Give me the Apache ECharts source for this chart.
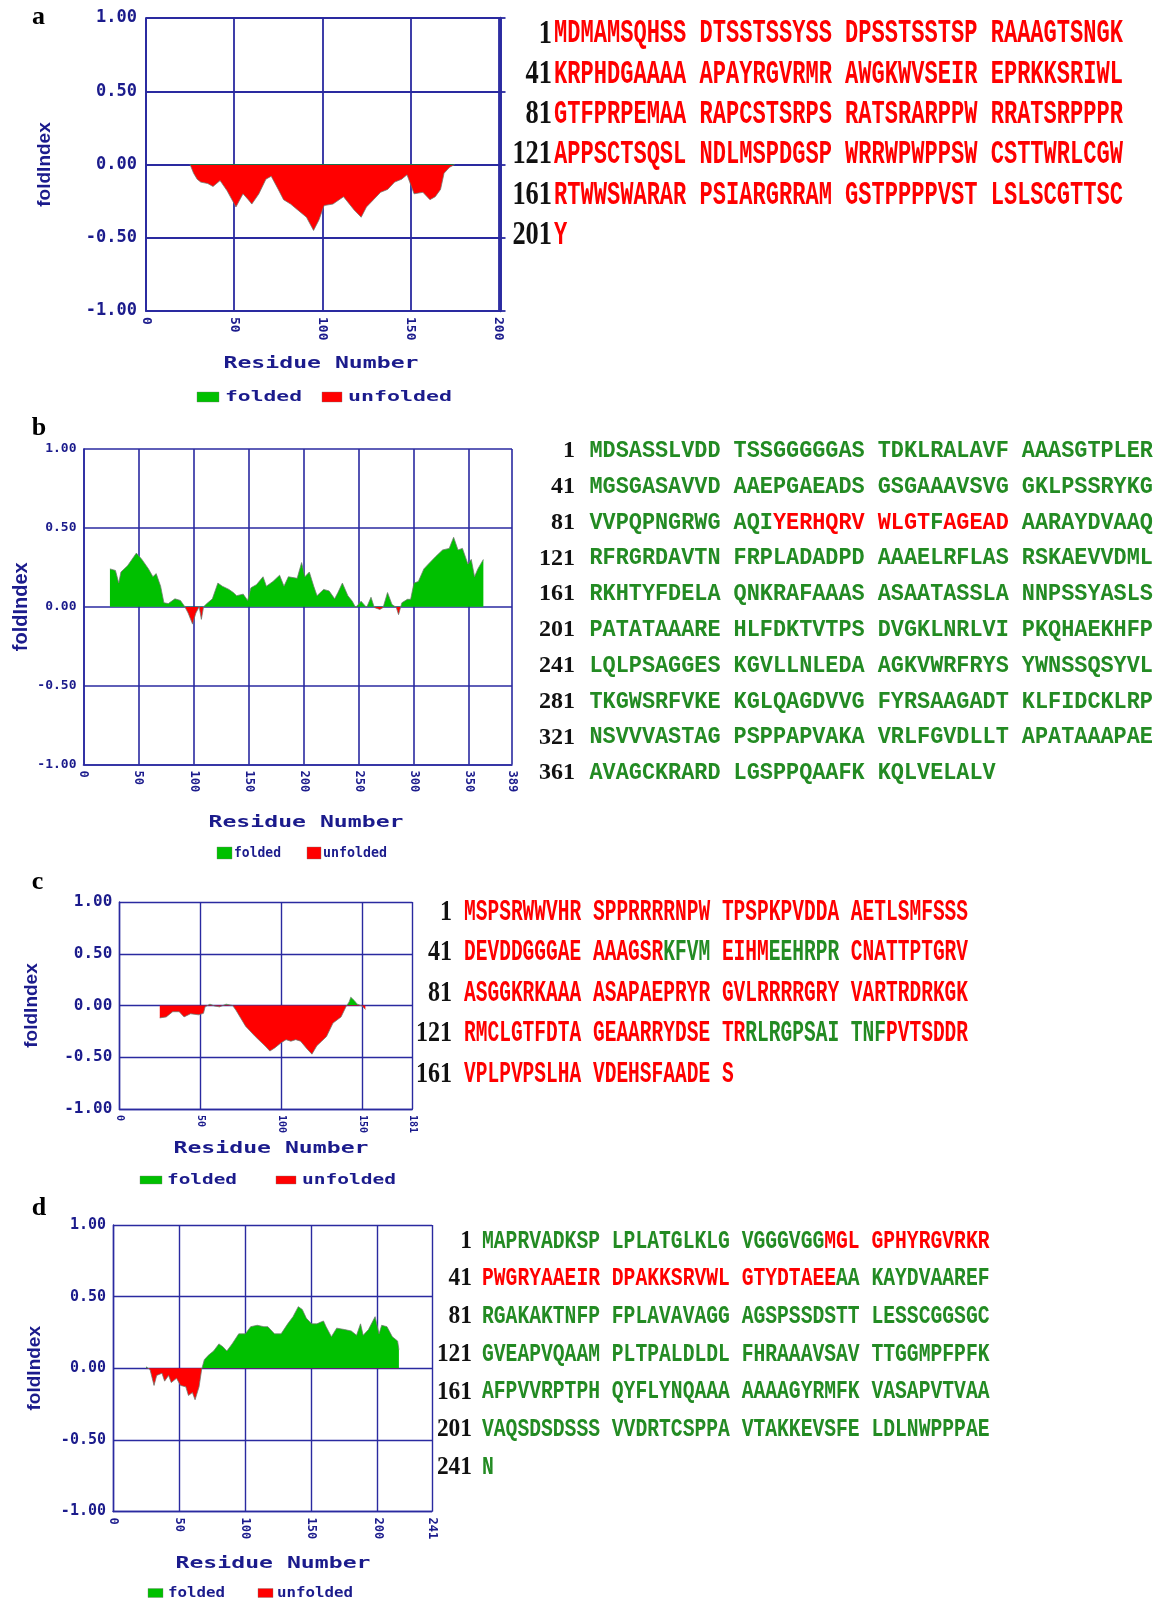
<!DOCTYPE html>
<html>
<head>
<meta charset="utf-8">
<script src="https://cdn.jsdelivr.net/npm/echarts@6/dist/echarts.min.js"></script>
<style>
html,body{margin:0;padding:0;background:#ffffff;}
#chart{width:1163px;height:1600px;}
</style>
</head>
<body>
<div id="chart"></div>
<script>
// ---------------- DATA ----------------
const panelLetters = ['a', 'b', 'c', 'd'];
const xMaxes = [201, 389, 181, 241];
const yTickValues = [-1, -0.5, 0, 0.5, 1];
const yTickLabels = ['-1.00', '-0.50', '0.00', '0.50', '1.00'];

// Panel a: FoldIndex profile
const aRes  = [25,27,29,31,35,38,42,46,51,55,58,60,64,68,71,75,78,82,86,91,95,98,101,106,112,118,122,125,129,133,137,141,145,148,152,157,161,164,167,169,172,175];
const aFold = [0,-0.06,-0.1,-0.12,-0.13,-0.15,-0.11,-0.18,-0.29,-0.2,-0.24,-0.27,-0.2,-0.1,-0.08,-0.17,-0.24,-0.27,-0.31,-0.36,-0.45,-0.38,-0.28,-0.27,-0.22,-0.31,-0.36,-0.29,-0.24,-0.19,-0.17,-0.12,-0.1,-0.07,-0.2,-0.19,-0.24,-0.22,-0.17,-0.06,-0.02,0];

// Panel b
const bRes  = [24,29,32,34,40,46,48,53,59,63,66,70,73,77,83,88,92,95,99,102,105,107,109,112,117,122,126,132,136,139,145,149,152,157,163,166,172,178,182,186,194,198,201,205,209,212,218,223,228,231,235,240,244,247,252,257,261,264,269,272,276,280,284,286,289,294,297,300,304,309,313,320,326,332,336,340,344,349,352,355,358,363];
const bFold = [0.24,0.23,0.15,0.22,0.26,0.32,0.34,0.30,0.24,0.19,0.21,0.13,0.025,0.02,0.05,0.04,0.0,-0.04,-0.11,-0.04,0.0,-0.08,0.0,0.02,0.05,0.15,0.13,0.11,0.09,0.07,0.08,0.04,0.12,0.14,0.19,0.13,0.16,0.2,0.13,0.19,0.18,0.28,0.19,0.22,0.13,0.07,0.11,0.1,0.05,0.09,0.15,0.07,0.035,-0.005,0.035,-0.005,0.06,-0.005,-0.017,-0.005,0.09,0.015,-0.005,-0.05,0.025,0.047,0.047,0.15,0.16,0.24,0.27,0.32,0.36,0.37,0.44,0.36,0.37,0.27,0.3,0.19,0.24,0.3];

// Panel c
const cRes  = [25,29,33,37,40,44,49,52,53,56,59,62,66,70,72,78,84,90,93,96,100,103,106,109,112,116,119,122,125,128,132,137,140,142,143,145,147,150,152];
const cFold = [-0.12,-0.11,-0.06,-0.06,-0.11,-0.08,-0.09,-0.076,-0.013,0.013,-0.006,-0.013,0.013,0,-0.044,-0.2,-0.3,-0.39,-0.44,-0.41,-0.36,-0.33,-0.345,-0.33,-0.345,-0.42,-0.47,-0.39,-0.345,-0.3,-0.17,-0.11,-0.013,0.035,0.08,0.05,0.013,-0.006,-0.038];

// Panel d
const dRes  = [25,28,31,33,37,39,42,44,48,51,55,57,60,62,65,67,69,72,76,80,83,86,90,95,100,104,109,114,117,122,127,132,136,140,143,146,150,154,159,161,165,169,175,180,184,187,189,193,198,201,203,207,211,215,216];
const dFold = [0.01,-0.01,-0.12,-0.05,-0.035,-0.09,-0.05,-0.1,-0.07,-0.12,-0.13,-0.19,-0.17,-0.22,-0.13,-0.007,0.06,0.09,0.12,0.17,0.15,0.12,0.17,0.24,0.24,0.29,0.3,0.29,0.29,0.24,0.24,0.31,0.36,0.43,0.41,0.35,0.31,0.31,0.33,0.29,0.22,0.28,0.27,0.26,0.23,0.31,0.23,0.27,0.36,0.24,0.3,0.29,0.22,0.19,0.13];

// Sequences (rows of 40 residues, blocks of 10)
const seqRowsA = [
  'MDMAMSQHSS DTSSTSSYSS DPSSTSSTSP RAAAGTSNGK',
  'KRPHDGAAAA APAYRGVRMR AWGKWVSEIR EPRKKSRIWL',
  'GTFPRPEMAA RAPCSTSRPS RATSRARPPW RRATSRPPPR',
  'APPSCTSQSL NDLMSPDGSP WRRWPWPPSW CSTTWRLCGW',
  'RTWWSWARAR PSIARGRRAM GSTPPPPVST LSLSCGTTSC',
  'Y'
];
const seqRowsB = [
  'MDSASSLVDD TSSGGGGGAS TDKLRALAVF AAASGTPLER',
  'MGSGASAVVD AAEPGAEADS GSGAAAVSVG GKLPSSRYKG',
  'VVPQPNGRWG AQIYERHQRV WLGTFAGEAD AARAYDVAAQ',
  'RFRGRDAVTN FRPLADADPD AAAELRFLAS RSKAEVVDML',
  'RKHTYFDELA QNKRAFAAAS ASAATASSLA NNPSSYASLS',
  'PATATAAARE HLFDKTVTPS DVGKLNRLVI PKQHAEKHFP',
  'LQLPSAGGES KGVLLNLEDA AGKVWRFRYS YWNSSQSYVL',
  'TKGWSRFVKE KGLQAGDVVG FYRSAAGADT KLFIDCKLRP',
  'NSVVVASTAG PSPPAPVAKA VRLFGVDLLT APATAAAPAE',
  'AVAGCKRARD LGSPPQAAFK KQLVELALV'
];
const seqRowsC = [
  'MSPSRWWVHR SPPRRRRNPW TPSPKPVDDA AETLSMFSSS',
  'DEVDDGGGAE AAAGSRKFVM EIHMEEHRPR CNATTPTGRV',
  'ASGGKRKAAA ASAPAEPRYR GVLRRRRGRY VARTRDRKGK',
  'RMCLGTFDTA GEAARRYDSE TRRLRGPSAI TNFPVTSDDR',
  'VPLPVPSLHA VDEHSFAADE S'
];
const seqRowsD = [
  'MAPRVADKSP LPLATGLKLG VGGGVGGMGL GPHYRGVRKR',
  'PWGRYAAEIR DPAKKSRVWL GTYDTAEEAA KAYDVAAREF',
  'RGAKAKTNFP FPLAVAVAGG AGSPSSDSTT LESSCGGSGC',
  'GVEAPVQAAM PLTPALDLDL FHRAAAVSAV TTGGMPFPFK',
  'AFPVVRPTPH QYFLYNQAAA AAAAGYRMFK VASAPVTVAA',
  'VAQSDSDSSS VVDRTCSPPA VTAKKEVSFE LDLNWPPPAE',
  'N'
];
// residue ranges predicted unfolded (red); the rest is folded (green)
const unfoldedA = [[1, 201]];
const unfoldedB = [[94, 104], [106, 110]];
const unfoldedC = [[1, 56], [61, 64], [71, 142], [154, 181]];
const unfoldedD = [[28, 68]];

const legendNames = ['folded', 'unfolded'];

// ---------------- STYLE / LAYOUT ----------------
const NAVY = '#1b1b8c';
const GRIDC = '#2a2aa0';
const AREA_GREEN = '#00c000';
const AREA_RED = '#ff0000';
const TXT_GREEN = '#238b23';
const TXT_RED = '#ff0000';
const MONO = 'DejaVu Sans Mono';

const profiles = [[aRes, aFold], [bRes, bFold], [cRes, cFold], [dRes, dFold]];
const seqRows = [seqRowsA, seqRowsB, seqRowsC, seqRowsD];
const unfolded = [unfoldedA, unfoldedB, unfoldedC, unfoldedD];

const LAYOUT = [
  { grid: [146, 18, 354.5, 293], lw: 1.8, yFont: 17, yMargin: 9, xFont: 13, nameGap: 92, nameFont: 19,
    letter: [38.5, 17], rn: [321, 364], legY: 397, boxH: 10, leg: [197, 219, 225, 302, 322, 342, 348, 452],
    seq: { numR: 552, x: 554, y0: 34, pitch: 40.3, F: 33, adv: 13.23, nsx: 0.8 } },
  { grid: [83.5, 449, 428.5, 315.5], lw: 1.6, yFont: 13, yMargin: 7, xFont: 12, nameGap: 52, nameFont: 20,
    letter: [39, 428], rn: [306, 823], legY: 853, boxH: 12, leg: [217, 232, 234, 281, 307, 321, 323, 387],
    seq: { numR: 575, x: 589.5, y0: 451, pitch: 35.8, F: 24, adv: 13.1, nsx: 1.0 } },
  { grid: [119.3, 902, 293, 207], lw: 1.4, yFont: 16, yMargin: 7, xFont: 10, nameGap: 78, nameFont: 19,
    letter: [37.5, 882], rn: [271, 1149], legY: 1180, boxH: 8, leg: [140, 162, 167, 237, 276, 296, 302, 396],
    seq: { numR: 452, x: 464, y0: 912, pitch: 40.5, F: 30, adv: 11.72, nsx: 0.8 } },
  { grid: [113, 1225, 319, 286.5], lw: 1.4, yFont: 15, yMargin: 7, xFont: 12, nameGap: 69, nameFont: 19,
    letter: [39, 1208], rn: [273, 1564], legY: 1593, boxH: 9, leg: [148, 163, 168, 225, 258, 273, 277, 353],
    seq: { numR: 472, x: 482, y0: 1241, pitch: 37.7, F: 26, adv: 11.8, nsx: 0.9 } }
];

function yLabel(v) {
  for (let k = 0; k < yTickValues.length; k++) {
    if (Math.abs(yTickValues[k] - v) < 1e-9) return yTickLabels[k];
  }
  return '';
}
function isRed(r, ranges) {
  for (const [s, e] of ranges) if (r >= s && r <= e) return true;
  return false;
}
function buildRich(rowStr, startRes, ranges) {
  let out = '', cur = null, buf = '', r = startRes;
  for (const ch of rowStr) {
    let cls;
    if (ch === ' ') cls = cur || 'g';
    else { cls = isRed(r, ranges) ? 'r' : 'g'; r++; }
    if (cls !== cur) {
      if (buf) out += '{' + cur + '|' + buf + '}';
      buf = ''; cur = cls;
    }
    buf += ch;
  }
  if (buf) out += '{' + cur + '|' + buf + '}';
  return out;
}

const grids = [], xAxes = [], yAxes = [], series = [], graphics = [];

LAYOUT.forEach((L, i) => {
  const [gl, gt, gw, gh] = L.grid;
  grids.push({ left: gl, top: gt, width: gw, height: gh, containLabel: false });
  xAxes.push({
    type: 'value', gridIndex: i, min: 0, max: xMaxes[i], interval: 50,
    axisLine: { show: true, onZero: false, lineStyle: { color: GRIDC, width: L.lw } },
    axisTick: { show: false },
    axisLabel: { rotate: -90, margin: 6, color: NAVY, fontFamily: MONO, fontWeight: 'bold', fontSize: L.xFont },
    splitLine: { show: true, lineStyle: { color: GRIDC, width: L.lw } }
  });
  yAxes.push({
    type: 'value', gridIndex: i, min: -1, max: 1, interval: 0.5,
    name: 'foldIndex', nameLocation: 'middle', nameGap: L.nameGap, nameRotate: 90,
    nameTextStyle: { color: NAVY, fontFamily: 'Liberation Sans', fontWeight: 'bold', fontSize: L.nameFont },
    axisLine: { show: true, onZero: false, lineStyle: { color: GRIDC, width: L.lw } },
    axisTick: { show: false },
    axisLabel: { margin: L.yMargin, color: NAVY, fontFamily: MONO, fontWeight: 'bold', fontSize: L.yFont, formatter: yLabel },
    splitLine: { show: true, lineStyle: { color: GRIDC, width: L.lw } }
  });
  const [res, fold] = profiles[i];
  // fill: green above the zero line (middle of the symmetric -1..1 axis), red below
  const fill = new echarts.graphic.LinearGradient(0, gt, 0, gt + gh, [
    { offset: 0, color: AREA_GREEN }, { offset: 0.5, color: AREA_GREEN },
    { offset: 0.5, color: AREA_RED }, { offset: 1, color: AREA_RED }
  ], true);
  series.push({
    type: 'line', name: 'foldIndex ' + panelLetters[i], xAxisIndex: i, yAxisIndex: i,
    data: res.map((x, k) => [x, fold[k]]),
    symbol: 'none', showSymbol: false, silent: true,
    lineStyle: { color: 'rgba(110,120,110,0.85)', width: 0.9 },
    areaStyle: { color: fill, opacity: 1, origin: 0 },
    z: 3
  });

  // panel letter
  graphics.push({ type: 'text', x: L.letter[0], y: L.letter[1], silent: true,
    style: { text: panelLetters[i], fill: '#000', font: 'bold 26px "Liberation Serif"', align: 'center', verticalAlign: 'middle' } });

  // x-axis title
  const rnFs = 15, rnW = 195;
  graphics.push({ type: 'text', x: L.rn[0], y: L.rn[1], scaleX: rnW / (14 * 0.602 * rnFs), silent: true,
    style: { text: 'Residue Number', fill: NAVY, font: 'bold ' + rnFs + 'px "' + MONO + '"', align: 'center', verticalAlign: 'middle' } });

  // legend
  const g = L.leg, lfs = 14;
  const boxes = [[g[0], g[1], AREA_GREEN], [g[4], g[5], AREA_RED]];
  const texts = [[g[2], g[3], legendNames[0]], [g[6], g[7], legendNames[1]]];
  boxes.forEach(b => graphics.push({ type: 'rect', silent: true,
    shape: { x: b[0], y: L.legY - L.boxH / 2, width: b[1] - b[0], height: L.boxH },
    style: { fill: b[2], stroke: 'rgba(120,120,120,0.6)', lineWidth: 0.6 } }));
  texts.forEach(t => graphics.push({ type: 'text', silent: true, x: t[0], y: L.legY,
    scaleX: (t[1] - t[0]) / (t[2].length * 0.602 * lfs),
    style: { text: t[2], fill: NAVY, font: 'bold ' + lfs + 'px "' + MONO + '"', align: 'left', verticalAlign: 'middle' } }));

  // sequence block
  const S = L.seq;
  const sx = S.adv / (0.6 * S.F);
  const seqFont = { fontFamily: 'Liberation Mono', fontWeight: 'bold', fontSize: S.F };
  seqRows[i].forEach((row, r) => {
    const y = S.y0 + r * S.pitch;
    graphics.push({ type: 'text', silent: true, x: S.numR, y: y, scaleX: S.nsx,
      style: { text: String(r * 40 + 1), fill: '#111111', font: 'bold ' + S.F + 'px "Liberation Serif"', align: 'right', verticalAlign: 'middle' } });
    graphics.push({ type: 'text', silent: true, x: S.x, y: y, scaleX: sx,
      style: {
        text: buildRich(row, r * 40 + 1, unfolded[i]),
        font: 'bold ' + S.F + 'px "Liberation Mono"',
        align: 'left', verticalAlign: 'middle',
        rich: {
          r: Object.assign({ fill: TXT_RED }, seqFont),
          g: Object.assign({ fill: TXT_GREEN }, seqFont)
        }
      } });
  });
});

// thick right border with outer ticks for panel a
yAxes.push({
  type: 'value', gridIndex: 0, position: 'right', min: -1, max: 1, interval: 0.5,
  axisLine: { show: true, onZero: false, lineStyle: { color: GRIDC, width: 2.5 } },
  axisTick: { show: true, inside: false, length: 5, lineStyle: { color: GRIDC, width: 1.8 } },
  axisLabel: { show: false }, splitLine: { show: false }
});

const chart = echarts.init(document.getElementById('chart'), null, { renderer: 'canvas' });
chart.setOption({
  animation: false,
  backgroundColor: '#ffffff',
  grid: grids,
  xAxis: xAxes,
  yAxis: yAxes,
  series: series,
  graphic: { elements: graphics }
});
</script>
</body>
</html>
